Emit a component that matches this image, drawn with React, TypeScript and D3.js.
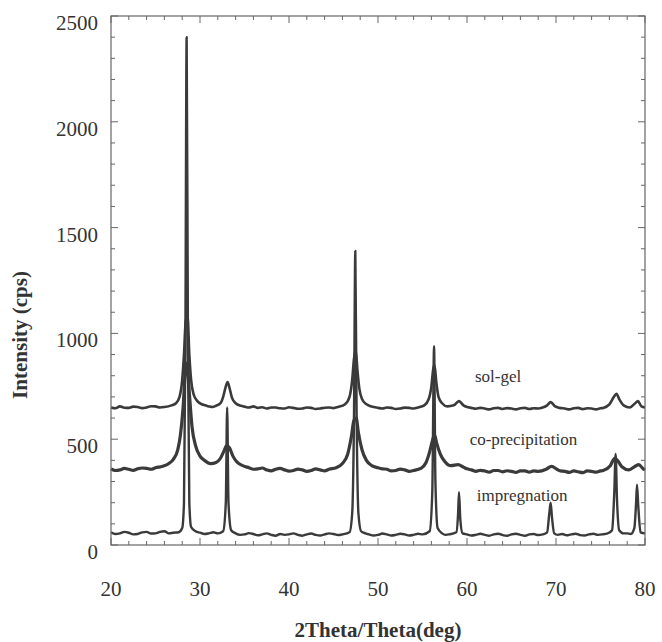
import React from "react";
import * as d3 from "d3";

// 2Theta (deg) and intensity (cps)
const solGel: [number, number][] = [
  [20, 650], [20.5, 646], [21, 655], [21.5, 649], [22, 648], [22.5, 654], [23, 652], [23.5, 647], [24, 650], [24.5, 656], [25, 655], [25.5, 650], [26, 652],
  [26.8, 660], [27.3, 670], [27.7, 700], [28.0, 780], [28.2, 900], [28.4, 1060], [28.6, 1080], [28.8, 900], [29.0, 780],
  [29.3, 710], [29.7, 680], [30.2, 665], [30.6, 660], [31, 655], [31.4, 652], [31.8, 658], [32.3, 670], [32.6, 700], [32.9, 750], [33.1, 770],
  [33.3, 745], [33.6, 695], [34.0, 670], [34.6, 658], [35, 654], [35.5, 650], [36, 655], [36.5, 648], [37, 651], [37.5, 645], [38, 650], [38.5, 650],
  [39, 646], [39.5, 645], [40, 651], [40.5, 648], [41, 644], [41.5, 645], [42, 650], [42.5, 648], [43, 643], [43.5, 645], [44, 649], [44.5, 650], [45, 647],
  [45.5, 652], [46.3, 665], [46.8, 700], [47.1, 780], [47.3, 880], [47.5, 920], [47.7, 820], [47.9, 740], [48.2, 690],
  [48.7, 665], [49.1, 657], [49.5, 652], [50, 648], [50.5, 645], [51, 650], [51.5, 648], [52, 643], [52.5, 645], [53, 649], [53.5, 648], [54, 645], [54.5, 650],
  [55.2, 660], [55.7, 690], [56.0, 750], [56.2, 830], [56.35, 850], [56.55, 770], [56.8, 700], [57.2, 670], [57.8, 655],
  [58.5, 660], [59.1, 680], [59.6, 660], [60, 652], [60.5, 648], [61, 644], [61.5, 648], [62, 645], [62.5, 641], [63, 646], [63.5, 648], [64, 643], [64.5, 647], [65, 645],
  [65.5, 641], [66, 646], [66.5, 648], [67, 643], [67.5, 646], [68, 645], [68.5, 650], [69, 660], [69.4, 675], [69.9, 655], [70.4, 648], [71, 645], [71.5, 641], [72, 646], [72.5, 648],
  [73, 642], [73.5, 646], [74, 645], [74.5, 641], [75, 646], [75.3, 648], [76.0, 665], [76.5, 700], [76.8, 715], [77.1, 690], [77.6, 660], [78.3, 650],
  [78.9, 670], [79.2, 680], [79.6, 655], [80, 650],
];

const coPrecipitation: [number, number][] = [
  [20, 360], [20.5, 352], [21, 355], [21.5, 362], [22, 358], [22.5, 353], [23, 360], [23.5, 364], [24, 362], [24.5, 358], [25, 365],
  [25.8, 372], [26.5, 385], [27.0, 405], [27.5, 450], [27.8, 520], [28.1, 650], [28.35, 820], [28.55, 860], [28.8, 720],
  [29.1, 560], [29.5, 470], [30.0, 420], [30.5, 400], [31.2, 385], [31.8, 390], [32.3, 410], [32.7, 445], [33.0, 470],
  [33.3, 460], [33.7, 420], [34.2, 390], [34.8, 375], [35.5, 365], [36, 358], [36.5, 360], [37, 364], [37.5, 355], [38, 350], [38.5, 358],
  [39, 362], [39.5, 355], [40, 349], [40.5, 352], [41, 359], [41.5, 355], [42, 348], [42.5, 352], [43, 360], [43.5, 355], [44, 350], [44.5, 358],
  [45.3, 365], [46.0, 385], [46.6, 430], [47.0, 510], [47.3, 590], [47.55, 600], [47.8, 530], [48.2, 450], [48.7, 400],
  [49.3, 375], [50, 365], [50.5, 360], [51, 358], [51.5, 350], [52, 352], [52.5, 359], [53, 355], [53.5, 348], [54, 352], [54.8, 362], [55.4, 390],
  [55.8, 440], [56.1, 490], [56.35, 520], [56.6, 480], [57.0, 430], [57.5, 395], [58.2, 375], [59.0, 380], [59.6, 368],
  [60, 360], [60.5, 355], [61, 348], [61.5, 353], [62, 350], [62.5, 344], [63, 352], [63.5, 352], [64, 346], [64.5, 351], [65, 348], [65.5, 343], [66, 350],
  [66.5, 350], [67, 344], [67.5, 350], [68, 348], [68.9, 358], [69.5, 372], [70.1, 358], [70.5, 350], [71, 348], [71.5, 343], [72, 350], [72.5, 346],
  [73, 342], [73.5, 350], [74, 348], [74.5, 344], [75, 350], [75.3, 352], [76.1, 375], [76.6, 410], [76.9, 400], [77.4, 370], [78.2, 355],
  [78.9, 372], [79.3, 380], [79.8, 360], [80, 355],
];

const impregnation: [number, number][] = [
  [20, 60], [20.5, 52], [21, 55], [21.5, 62], [22, 58], [22.5, 50], [23, 52], [23.5, 60], [24, 62], [24.5, 54], [25, 55], [25.5, 62],
  [26, 65], [26.5, 55], [27, 58], [27.6, 60], [28.0, 80], [28.2, 200], [28.35, 900], [28.5, 2400], [28.65, 900],
  [28.8, 200], [29.0, 85], [29.5, 65], [30, 58], [30.5, 52], [31, 55], [31.5, 60], [32, 55], [32.6, 65], [32.9, 200], [33.05, 650],
  [33.2, 200], [33.5, 70], [34, 55], [34.5, 48], [35, 50], [35.5, 56], [36, 52], [36.5, 46], [37, 50], [37.5, 55], [38, 48], [38.5, 44], [39, 52], [39.5, 48],
  [40, 50], [40.5, 55], [41, 48], [41.5, 44], [42, 50], [42.5, 54], [43, 48], [43.5, 45], [44, 50], [44.5, 55], [45, 52], [45.5, 47], [46, 50],
  [46.8, 60], [47.1, 150], [47.3, 600], [47.45, 1390], [47.6, 600], [47.8, 150], [48.1, 65], [48.6, 55], [49, 50], [49.5, 45],
  [50, 48], [50.5, 54], [51, 50], [51.5, 45], [52, 48], [52.5, 53], [53, 50], [53.5, 45], [54, 48], [54.5, 53], [55, 50], [55.8, 65], [56.1, 250], [56.3, 940],
  [56.45, 300], [56.7, 80], [57.2, 55], [57.6, 48], [58, 50], [58.8, 60], [59.0, 150], [59.1, 250], [59.25, 120], [59.5, 55], [60, 50], [60.5, 45],
  [61, 48], [61.5, 53], [62, 48], [62.5, 44], [63, 50], [63.5, 53], [64, 47], [64.5, 44], [65, 50], [65.5, 53], [66, 48], [66.5, 44], [67, 50], [67.5, 52], [68, 47], [68.5, 50],
  [69.0, 60], [69.25, 150], [69.4, 200], [69.55, 130], [69.8, 55], [70.2, 48], [70.7, 52], [71.2, 46], [71.7, 50], [72.2, 53], [72.7, 47], [73.2, 45],
  [73.7, 50], [74.2, 53], [74.7, 48], [75.2, 50], [75.8, 55], [76.3, 70], [76.55, 250], [76.7, 430], [76.85, 220],
  [77.1, 70], [77.6, 55], [78, 55], [78.4, 52], [78.8, 80], [79.0, 200], [79.1, 285], [79.25, 180], [79.5, 60], [80, 55],
];

const seriesNames = ["sol-gel", "co-precipitation", "impregnation"];
const xMajorTicks = [20, 30, 40, 50, 60, 70, 80];
const yMajorTicks = [0, 500, 1000, 1500, 2000, 2500];

const W = 662;
const H = 642;
const left = 111;
const right = 645;
const top = 16;
const bottom = 545;

export default function App() {
  const x = d3.scaleLinear().domain([20, 80]).range([left, right]);
  const y = d3.scaleLinear().domain([0, 2500]).range([bottom, top]);
  const line = d3
    .line<[number, number]>()
    .x((d) => x(d[0]))
    .y((d) => y(d[1]))
    .curve(d3.curveMonotoneX);

  const xMinor = d3.range(20, 80.01, 2).filter((v) => !xMajorTicks.includes(v));
  const yMinor = d3.range(0, 2500.01, 100).filter((v) => !yMajorTicks.includes(v));
  const stroke = "#3a3a3a";
  const font = "'Liberation Serif', 'Times New Roman', serif";

  const series = [
    { name: seriesNames[0], data: solGel, w: 2.6, lx: 60.9, ly: 790 },
    { name: seriesNames[1], data: coPrecipitation, w: 3.2, lx: 60.3, ly: 490 },
    { name: seriesNames[2], data: impregnation, w: 2.4, lx: 61.1, ly: 228 },
  ];

  return (
    <svg
      width={W}
      height={H}
      style={{ position: "absolute", left: 0, top: 0, background: "#fff" }}
      fontFamily={font}
    >
      <rect x={0} y={0} width={W} height={H} fill="#fff" />
      {series.map((s) => (
        <path
          key={s.name}
          d={line(s.data) || ""}
          fill="none"
          stroke={stroke}
          strokeWidth={s.w}
          strokeLinejoin="round"
        />
      ))}
      {series.map((s) => (
        <text key={s.name + "-l"} x={x(s.lx)} y={y(s.ly)} fontSize={17} fill="#333" dominantBaseline="middle">
          {s.name}
        </text>
      ))}
      {/* frame */}
      <rect x={left} y={top} width={right - left} height={bottom - top} fill="none" stroke="#666" strokeWidth={1.2} />
      {/* x ticks */}
      {xMajorTicks.map((t) => (
        <g key={"xt" + t}>
          <line x1={x(t)} x2={x(t)} y1={bottom} y2={bottom - 7} stroke="#666" />
          <line x1={x(t)} x2={x(t)} y1={top} y2={top + 7} stroke="#666" />
          <text x={x(t)} y={596} fontSize={21} textAnchor="middle" fill="#333">
            {t}
          </text>
        </g>
      ))}
      {xMinor.map((t) => (
        <g key={"xm" + t}>
          <line x1={x(t)} x2={x(t)} y1={bottom} y2={bottom - 4} stroke="#666" />
          <line x1={x(t)} x2={x(t)} y1={top} y2={top + 4} stroke="#666" />
        </g>
      ))}
      {yMajorTicks.map((t) => (
        <g key={"yt" + t}>
          <line x1={left} x2={left + 7} y1={y(t)} y2={y(t)} stroke="#666" />
          <line x1={right} x2={right - 7} y1={y(t)} y2={y(t)} stroke="#666" />
          <text x={98} y={y(t) + 14} fontSize={21} textAnchor="end" fill="#333">
            {t}
          </text>
        </g>
      ))}
      {yMinor.map((t) => (
        <g key={"ym" + t}>
          <line x1={left} x2={left + 4} y1={y(t)} y2={y(t)} stroke="#666" />
          <line x1={right} x2={right - 4} y1={y(t)} y2={y(t)} stroke="#666" />
        </g>
      ))}
      <text x={378} y={637} fontSize={21} fontWeight="bold" textAnchor="middle" fill="#333">
        2Theta/Theta(deg)
      </text>
      <text
        transform={`translate(27, 335) rotate(-90)`}
        fontSize={21}
        fontWeight="bold"
        textAnchor="middle"
        fill="#333"
      >
        Intensity (cps)
      </text>
    </svg>
  );
}
